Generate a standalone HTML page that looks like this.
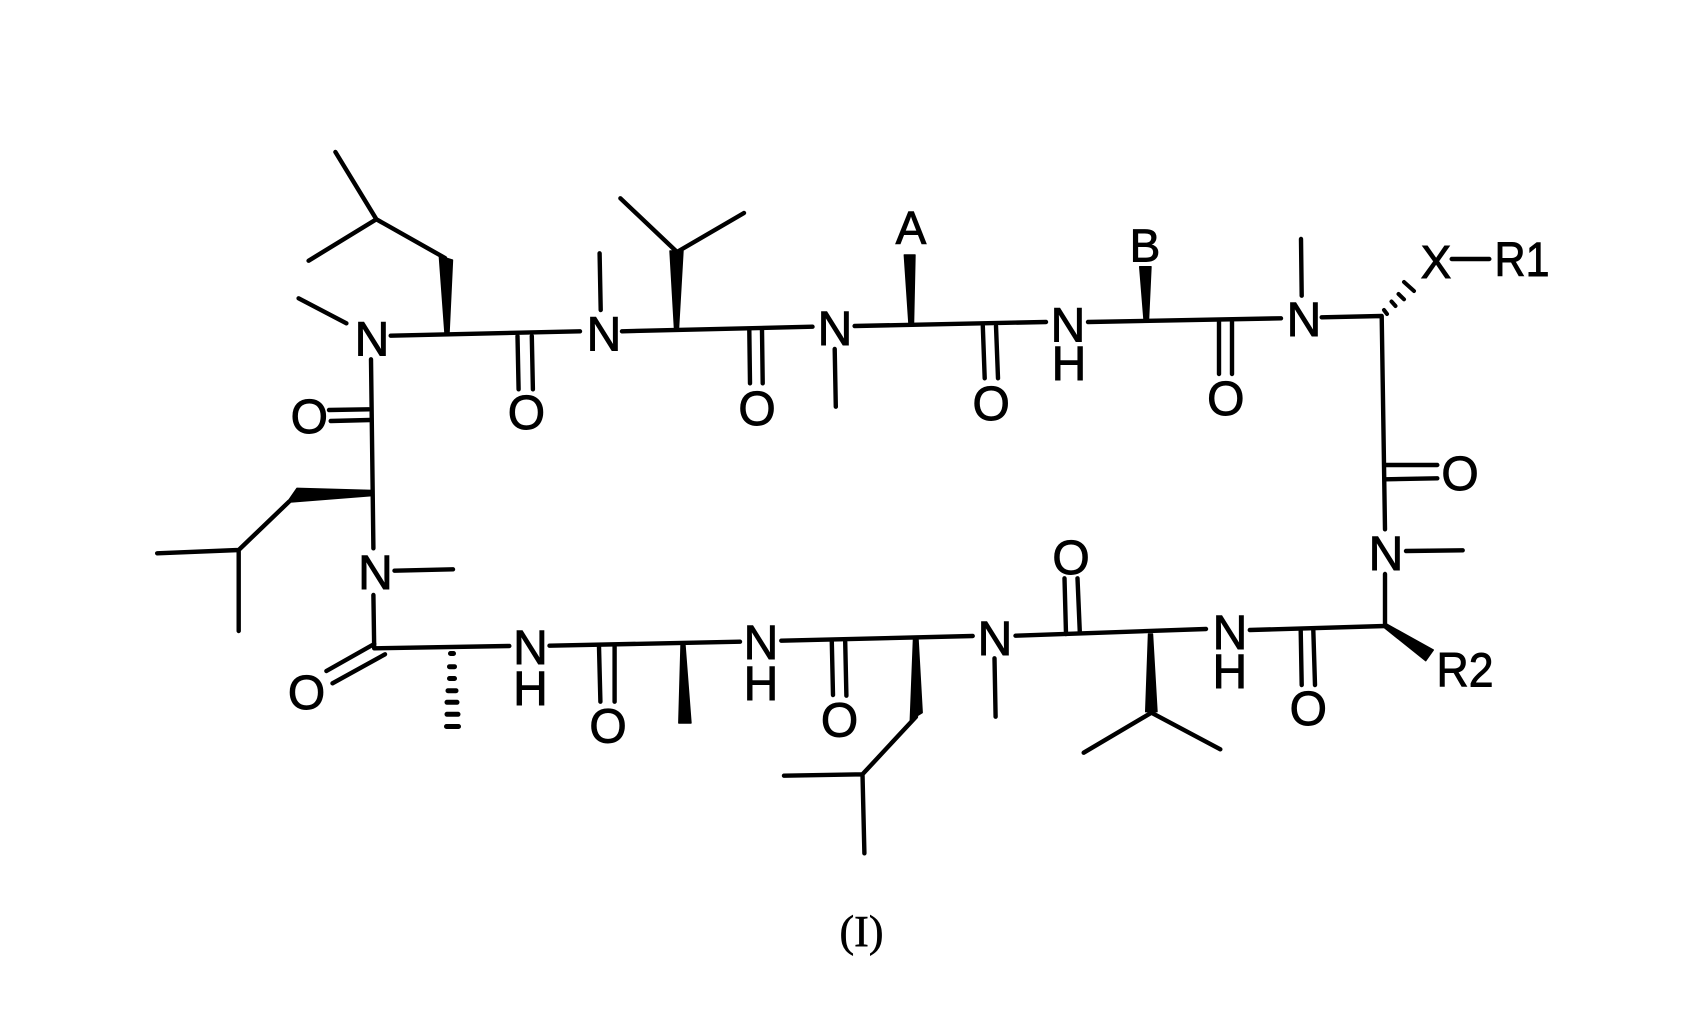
<!DOCTYPE html>
<html>
<head>
<meta charset="utf-8">
<style>
html,body{margin:0;padding:0;background:#fff;width:1703px;height:1021px;overflow:hidden}
svg{display:block}
text{font-family:"Liberation Sans",sans-serif;font-size:48px;fill:#000;stroke:#000;stroke-width:.9px;text-anchor:middle}
</style>
</head>
<body>
<svg width="1703" height="1021" viewBox="0 0 1703 1021" xmlns="http://www.w3.org/2000/svg">
<rect width="1703" height="1021" fill="#fff"/>
<g fill="none" stroke="#000" stroke-width="4.4" stroke-linecap="round" stroke-linejoin="round">
<!-- top-left isobutyl -->
<path d="M335.4 152L376.4 219.3L308.6 260.7M376.4 219.3L445 258"/>
<path d="M298.6 298.3L346.4 323.3"/>
<path d="M390.7 335.7L580 331.3"/>
<path d="M517.5 336L518.6 389.3M531.8 336L532.9 389.3"/>
<path d="M599.6 253.3L600.7 310"/>
<path d="M620.4 198.3L677 252L744 213"/>
<path d="M622 331.3L812.5 326.7"/>
<path d="M749.3 330L750 383.3M762 330L762.7 383.3"/>
<path d="M834.7 349L835.8 406.7"/>
<path d="M854.6 326L1046 322"/>
<path d="M982.8 326L984.7 378.3M996 326L998 378.3"/>
<path d="M1088 322L1281 318.3"/>
<path d="M1219 321.7L1219 374M1232 321.7L1232 374"/>
<path d="M1301 239L1301.7 295.7"/>
<path d="M1321.7 317.3L1381.7 316L1385 529.3"/>
<path d="M1385 465L1437.3 465M1385 479.3L1437.3 478.3"/>
<path d="M1451.7 259L1489.3 259"/>
<path d="M1406 551L1462.7 550.3"/>
<path d="M1385 574L1385 626L1249.8 630"/>
<path d="M1300.7 630L1301.7 685M1313.3 630L1315 685"/>
<!-- left side -->
<path d="M371 359.3L373.4 548.3"/>
<path d="M329 410L368.6 409.3M330.7 421L370 420"/>
<path d="M289 501.7L238.7 550L157.2 553.3M238.7 550L238.7 631"/>
<path d="M394.5 570.7L453 569.3"/>
<path d="M373.4 595L374.2 648.3L509.3 646"/>
<path d="M374.2 644L326.4 671M385 654.3L332.5 683.3"/>
<!-- bottom -->
<path d="M549.5 645.7L740 641.7"/>
<path d="M599 646.7L600.4 701.7M614.6 646.7L614.6 701.7"/>
<path d="M781.3 640.7L972.7 636"/>
<path d="M831.8 641.7L833 695M845.2 641.7L846.4 695.7"/>
<path d="M916 716.7L862.5 774.3L784 775.7M862.5 774.3L864.4 853.3"/>
<path d="M994.5 658.3L995.6 716.7"/>
<path d="M1015.5 635.7L1206 629"/>
<path d="M1064.5 578.3L1066 634M1077.5 578.3L1079.8 632"/>
<path d="M1083.7 752.7L1151.4 712.7L1220.3 749.3"/>
</g>
<!-- solid wedges -->
<g fill="#000" stroke="#000" stroke-width="1.4" stroke-linejoin="round">
<polygon points="439.3,256 452.5,260 449,334 445,334"/>
<polygon points="670,251 683,251 678.5,329 674.5,329"/>
<polygon points="904.3,255 915,255 913.5,325 909,325"/>
<polygon points="1139.7,266.7 1151,266.7 1148.5,320 1144,320"/>
<polygon points="297,488.3 287.3,502.3 373,495.5 372.5,490.5"/>
<polygon points="678.8,723 691,723 685,645 681,645"/>
<polygon points="910.3,720 922.2,712.7 918,638.3 913.5,638.3"/>
<polygon points="1145.7,711.7 1157,711.7 1152.5,634 1148.5,634"/>
<polygon points="1383.5,627 1386.5,624 1433.3,650 1425.7,660.7"/>
</g>
<!-- hashed wedges -->
<g fill="none" stroke="#000" stroke-width="4" stroke-linecap="round">
<path d="M1384 310L1387 314M1391.5 301.5L1395.5 306M1398.5 294L1404 299.3M1404 282L1414 291"/>
<path d="M450.5 653.5H453.5M449.5 666.7H454.5M449.5 678.5H454.5M448 690.7H456M447 702.3H457M447 714.3H458M446.5 726.5H458.5" stroke-width="5"/>
</g>
<!-- labels -->
<text x="372" y="355.5">N</text>
<text x="604" y="350.5">N</text>
<text x="835" y="344.8">N</text>
<text x="1068" y="341.5">N</text>
<text x="1069" y="379.8">H</text>
<text x="1304" y="335.8">N</text>
<text x="1386" y="569.8">N</text>
<text x="375.5" y="589.2">N</text>
<text x="530.5" y="664.2">N</text>
<text x="530.4" y="704.8">H</text>
<text x="761" y="659.2">N</text>
<text x="761" y="699.8">H</text>
<text x="995" y="654.8">N</text>
<text x="1230" y="649.2">N</text>
<text x="1229.8" y="688.2">H</text>
<text x="526.4" y="428.8">O</text>
<text x="309.3" y="433.2">O</text>
<text x="757" y="424.8">O</text>
<text x="991.2" y="419.8">O</text>
<text x="1225.8" y="414.8">O</text>
<text x="1460" y="489.8">O</text>
<text x="1308.3" y="724.8">O</text>
<text x="306.5" y="709.2">O</text>
<text x="608" y="742.5">O</text>
<text x="839.5" y="736.5">O</text>
<text x="1071" y="573.8">O</text>
<text x="911" y="243.8" style="font-size:46px">A</text>
<text x="1145" y="261.5" style="font-size:46px">B</text>
<text x="1436" y="278.2" style="font-size:46px">X</text>
<text x="1522" y="275.8" textLength="55" lengthAdjust="spacingAndGlyphs">R1</text>
<text x="1465" y="686.5" textLength="57" lengthAdjust="spacingAndGlyphs">R2</text>
<text x="861.5" y="946" style="font-family:'Liberation Serif',serif;font-size:44px;stroke-width:.6px">(I)</text>
</svg>
</body>
</html>
